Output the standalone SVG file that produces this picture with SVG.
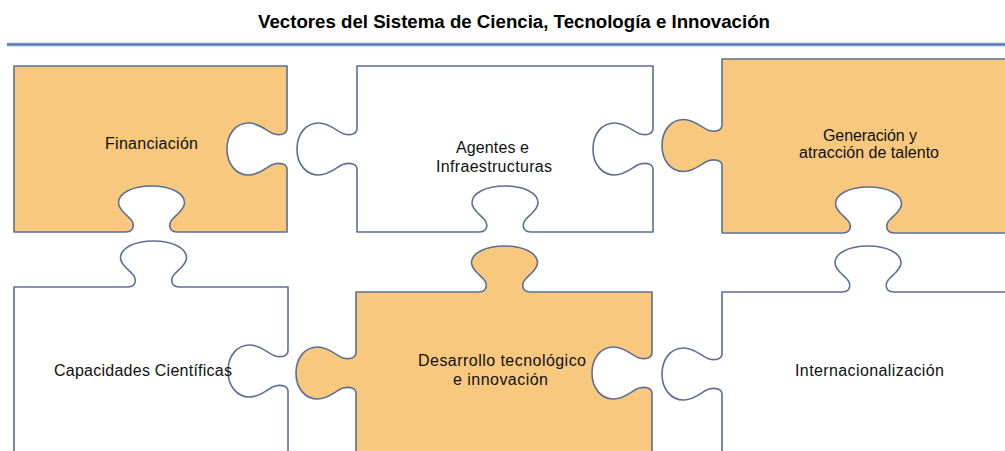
<svg xmlns="http://www.w3.org/2000/svg" width="1005" height="451" viewBox="0 0 1005 451">
<style>
.piece{stroke:#5b7093;stroke-width:1.6;stroke-linejoin:round}
.orange{fill:#F8C87F}
.white{fill:#FFFFFF}
.lbl{font-family:"Liberation Sans",Arial,sans-serif;font-size:16px;fill:#111;text-anchor:middle}
.title{font-family:"Liberation Sans",Arial,sans-serif;font-size:18px;font-weight:bold;fill:#000;text-anchor:middle}
</style>
<rect width="1005" height="451" fill="#FFFFFF"/>
<text class="title" x="514" y="28" textLength="512" lengthAdjust="spacingAndGlyphs">Vectores del Sistema de Ciencia, Tecnología e Innovación</text>
<line x1="7" y1="44.5" x2="1005" y2="44.5" stroke="#a9bddb" stroke-width="4"/>
<line x1="7" y1="44.5" x2="1005" y2="44.5" stroke="#4f79b8" stroke-width="2"/>
<g id="connectors"></g>
<g id="financiacion">
<path class="piece orange" d="M14,66 H287 V128.5 c0,5.5 -6.4,7.1 -12.8,5.5 c-6.3,-1.5 -14,-11 -25.5,-11 c-12.8,0 -21.7,11 -21.7,26 c0,15 8.9,26 21.7,26 c11.5,0 19.2,-9.5 25.5,-11 c6.4,-1.6 12.8,0 12.8,5.5 V232 H177.5 c-7,0 -9,-5 -7,-10 c2,-5 14,-11 14,-19 c0,-10 -14,-17 -33,-17 c-19,0 -33,7 -33,17 c0,8 12,14 14,19 c2,5 0,10 -7,10 H14 Z"/>
<text class="lbl" x="151.5" y="149" textLength="93" lengthAdjust="spacing">Financiación</text>
</g>
<g id="agentes">
<path class="piece white" d="M357,66 H653 V128.5 c0,5.5 -6.4,7.1 -12.8,5.5 c-6.3,-1.5 -14,-11 -25.5,-11 c-12.8,0 -21.7,11 -21.7,26 c0,15 8.9,26 21.7,26 c11.5,0 19.2,-9.5 25.5,-11 c6.4,-1.6 12.8,0 12.8,5.5 V232 H531 c-7,0 -9,-5 -7,-10 c2,-5 14,-11 14,-19 c0,-10 -14,-17 -33,-17 c-19,0 -33,7 -33,17 c0,8 12,14 14,19 c2,5 0,10 -7,10 H357 V169.5 c0,-5.5 -6.4,-7.1 -12.8,-5.5 c-6.3,1.5 -14,11 -25.5,11 c-12.8,0 -21.7,-11 -21.7,-26 c0,-15 8.9,-26 21.7,-26 c11.5,0 19.2,9.5 25.5,11 c6.4,1.6 12.8,0 12.8,-5.5 Z"/>
<text class="lbl" x="492.5" y="153" textLength="73" lengthAdjust="spacing">Agentes e</text>
<text class="lbl" x="494" y="171.5" textLength="116" lengthAdjust="spacing">Infraestructuras</text>
</g>
<g id="talento">
<path class="piece orange" d="M722,59 H1010 V233 H894.5 c-7,0 -9,-5 -7,-10 c2,-5 14,-11 14,-19 c0,-10 -14,-17 -33,-17 c-19,0 -33,7 -33,17 c0,8 12,14 14,19 c2,5 0,10 -7,10 H722 V166 c0,-5.5 -6.4,-7.1 -12.8,-5.5 c-6.3,1.5 -14,11 -25.5,11 c-12.8,0 -21.7,-11 -21.7,-26 c0,-15 8.9,-26 21.7,-26 c11.5,0 19.2,9.5 25.5,11 c6.4,1.6 12.8,0 12.8,-5.5 Z"/>
<text class="lbl" x="870" y="141" textLength="94" lengthAdjust="spacing">Generación y</text>
<text class="lbl" x="869" y="157.5" textLength="140" lengthAdjust="spacing">atracción de talento</text>
</g>
<g id="capacidades">
<path class="piece white" d="M14,287 H127.5 c7,0 9,-5 7,-10 c-2,-5 -14,-11 -14,-19 c0,-10 14,-17 33,-17 c19,0 33,7 33,17 c0,8 -12,14 -14,19 c-2,5 0,10 7,10 H288 V350.5 c0,5.5 -6.4,7.1 -12.8,5.5 c-6.3,-1.5 -14,-11 -25.5,-11 c-12.8,0 -21.7,11 -21.7,26 c0,15 8.9,26 21.7,26 c11.5,0 19.2,-9.5 25.5,-11 c6.4,-1.6 12.8,0 12.8,5.5 V460 H14 Z"/>
<text class="lbl" x="143" y="376" textLength="178" lengthAdjust="spacing">Capacidades Científicas</text>
</g>
<g id="desarrollo">
<path class="piece orange" d="M356,292 H478.5 c7,0 9,-5 7,-10 c-2,-5 -14,-11 -14,-19 c0,-10 14,-17 33,-17 c19,0 33,7 33,17 c0,8 -12,14 -14,19 c-2,5 0,10 7,10 H652 V352.5 c0,5.5 -6.4,7.1 -12.8,5.5 c-6.3,-1.5 -14,-11 -25.5,-11 c-12.8,0 -21.7,11 -21.7,26 c0,15 8.9,26 21.7,26 c11.5,0 19.2,-9.5 25.5,-11 c6.4,-1.6 12.8,0 12.8,5.5 V460 H356 V393.5 c0,-5.5 -6.4,-7.1 -12.8,-5.5 c-6.3,1.5 -14,11 -25.5,11 c-12.8,0 -21.7,-11 -21.7,-26 c0,-15 8.9,-26 21.7,-26 c11.5,0 19.2,9.5 25.5,11 c6.4,1.6 12.8,0 12.8,-5.5 Z"/>
<text class="lbl" x="502" y="366" textLength="168" lengthAdjust="spacing">Desarrollo tecnológico</text>
<text class="lbl" x="500.5" y="385" textLength="95" lengthAdjust="spacing">e innovación</text>
</g>
<g id="internacionalizacion">
<path class="piece white" d="M722,292 H842 c7,0 9,-5 7,-10 c-2,-5 -14,-11 -14,-19 c0,-10 14,-17 33,-17 c19,0 33,7 33,17 c0,8 -12,14 -14,19 c-2,5 0,10 7,10 H1010 V460 H722 V394.5 c0,-5.5 -6.4,-7.1 -12.8,-5.5 c-6.3,1.5 -14,11 -25.5,11 c-12.8,0 -21.7,-11 -21.7,-26 c0,-15 8.9,-26 21.7,-26 c11.5,0 19.2,9.5 25.5,11 c6.4,1.6 12.8,0 12.8,-5.5 Z"/>
<text class="lbl" x="869.5" y="376" textLength="149" lengthAdjust="spacing">Internacionalización</text>
</g>
</svg>
